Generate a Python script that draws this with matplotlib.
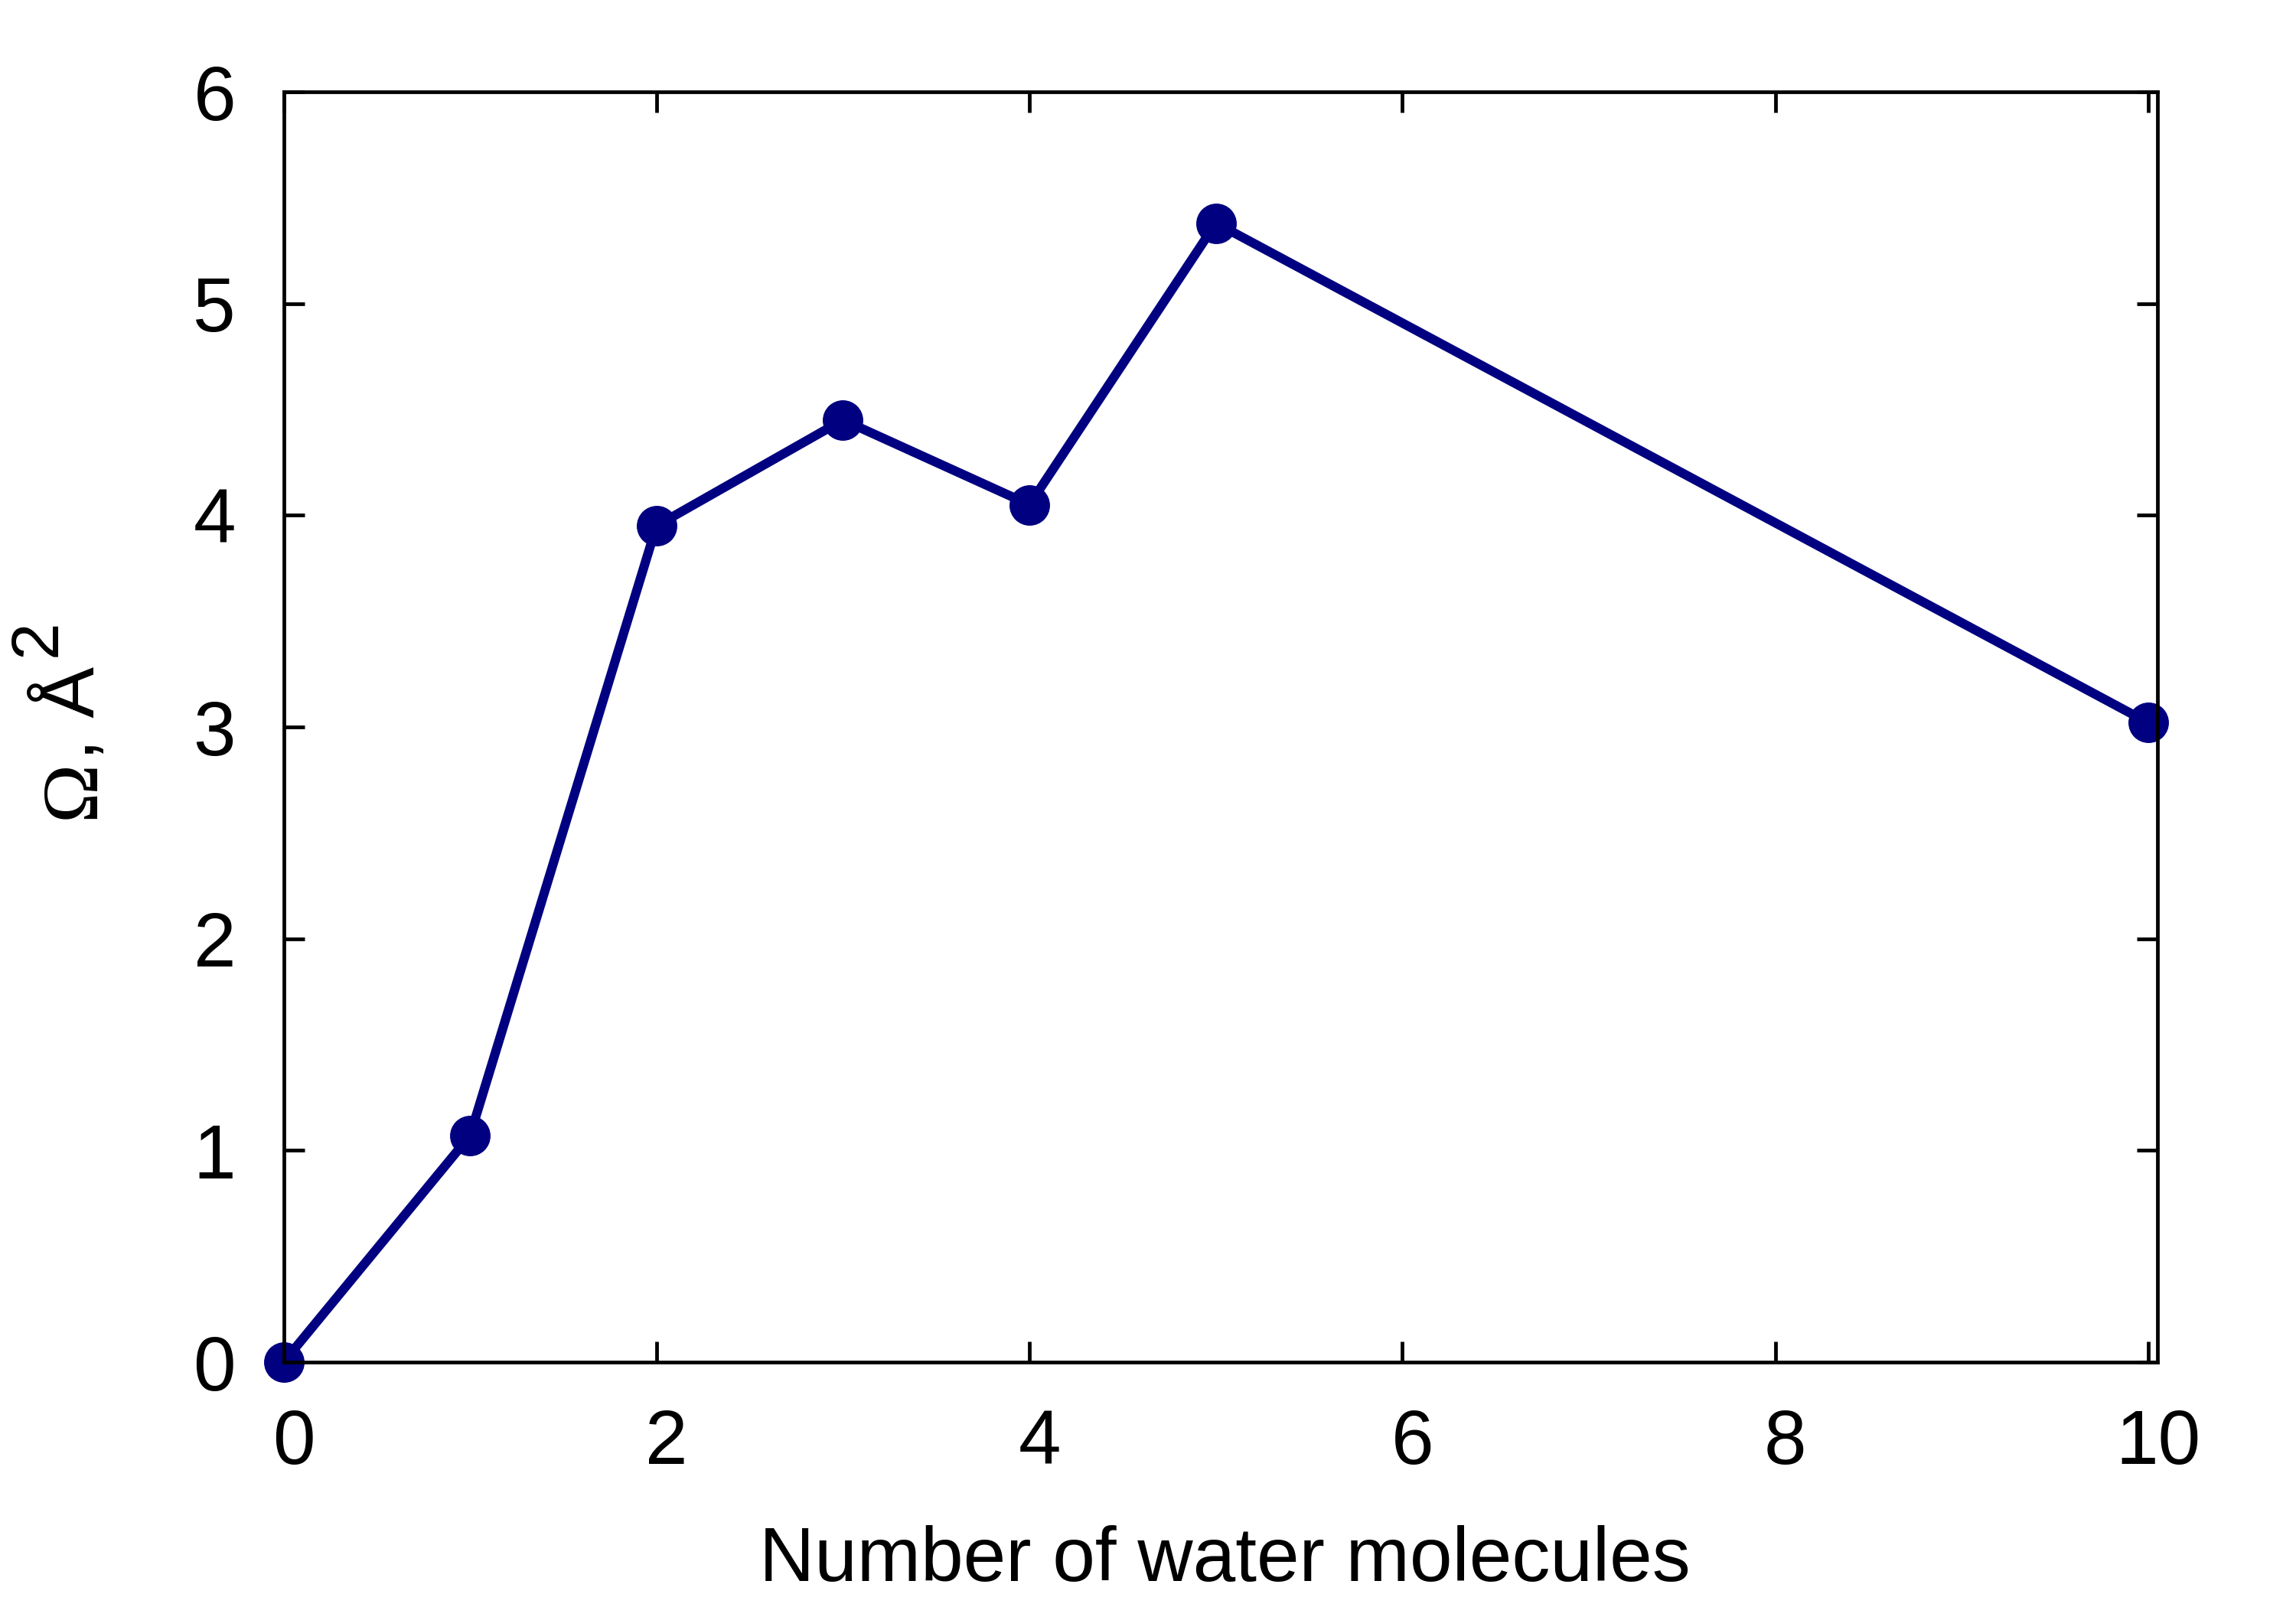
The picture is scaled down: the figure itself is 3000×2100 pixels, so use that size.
import matplotlib
matplotlib.use("Agg")
import matplotlib.pyplot as plt
import matplotlib.transforms as mtransforms

# Data
n_water = [0, 1, 2, 3, 4, 5, 10]
omega = [0.0, 1.07, 3.95, 4.45, 4.05, 5.38, 3.02]
x_ticks = [0, 2, 4, 6, 8, 10]
y_ticks = [0, 1, 2, 3, 4, 5, 6]

W, H = 3000, 2100
DPI = 300
plt.rcParams['font.family'] = ['Liberation Sans', 'DejaVu Sans']

fig = plt.figure(figsize=(W / DPI, H / DPI), dpi=DPI)
left, right, top, bottom = 370.5, 2819, 120, 1780
ax = fig.add_axes([left / W, 1 - bottom / H, (right - left) / W, (bottom - top) / H])

ax.plot(n_water, omega, color='#000080', lw=2.9, marker='o', ms=12.2, mew=0.5,
        mfc='#000080', mec='#000080', clip_on=False, zorder=2)

ax.set_xlim(0, 10.049)
ax.set_ylim(0, 6)
ax.set_xticks(x_ticks)
ax.set_yticks(y_ticks)
ax.set_xticklabels([str(v) for v in x_ticks])
ax.set_yticklabels([str(v) for v in y_ticks])

for s in ax.spines.values():
    s.set_linewidth(1.15)
    s.set_zorder(3)

ax.tick_params(axis='both', which='major', direction='in', length=6.5, width=1.15,
               top=True, right=True, labelsize=24, colors='black')
ax.tick_params(axis='x', pad=14.5)
ax.tick_params(axis='y', pad=15)

# shift x tick labels slightly right, like the original
offset = mtransforms.ScaledTranslation(13 / DPI, 0, fig.dpi_scale_trans)
for lab in ax.get_xticklabels():
    lab.set_transform(lab.get_transform() + offset)

# x label
fig.text(1600 / W, 1 - 2066 / H, 'Number of water molecules', ha='center',
         va='baseline', fontsize=24)

# y label built from pieces: serif Omega, sans ", Å", raised "2"
fig.canvas.draw()
renderer = fig.canvas.get_renderer()
bx = 123 / W
t1 = fig.text(bx, 1 - 1070 / H, 'Ω', rotation=90, rotation_mode='anchor',
              ha='left', va='baseline', fontsize=25, family=['Liberation Serif', 'DejaVu Serif'])
bb = t1.get_window_extent(renderer)
t2 = fig.text(bx, bb.y1 / H, ', Å', rotation=90, rotation_mode='anchor',
              ha='left', va='baseline', fontsize=24)
bb2 = t2.get_window_extent(renderer)
fig.text(bx - 50 / W, bb2.y1 / H + 12 / H, '2', rotation=90, rotation_mode='anchor',
         ha='left', va='baseline', fontsize=21)

fig.savefig('out.png', dpi=DPI)
